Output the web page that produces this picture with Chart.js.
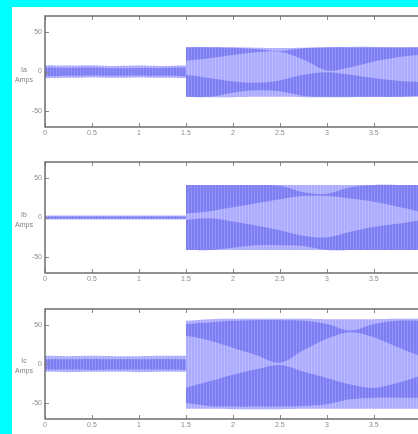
<!DOCTYPE html>
<html>
<head>
<meta charset="utf-8">
<script src="https://cdn.jsdelivr.net/npm/chart.js@4.4.1/dist/chart.umd.min.js"></script>
<style>
body { margin:0; background:#00ffff; width:418px; height:434px; overflow:hidden; position:relative; font-family:"Liberation Sans", Arial, sans-serif; }
#sheet { position:absolute; left:12px; top:7px; width:406px; height:427px; background:#fff; }
.box { position:absolute; left:12px; width:406px; }
.box canvas { filter: blur(0.35px); }
.lab { position:absolute; left:13px; width:22px; text-align:center; font-size:7px; line-height:10px; color:#808080; }
</style>
</head>
<body>
<div id="sheet"></div>
<div class="box" style="top:7px;height:140px"><canvas id="c1"></canvas></div>
<div class="box" style="top:147px;height:145px"><canvas id="c2"></canvas></div>
<div class="box" style="top:292px;height:142px"><canvas id="c3"></canvas></div>
<div class="lab" style="top:65px">Ia<br>Amps</div>
<div class="lab" style="top:210px">Ib<br>Amps</div>
<div class="lab" style="top:356px">Ic<br>Amps</div>
<script>
// time (s) before and after the fault at 1.5 s
const tPre = [0, 0.25, 0.5, 0.75, 1, 1.25, 1.5];
const tPost = [1.5, 1.75, 2, 2.25, 2.5, 2.75, 3, 3.25, 3.5, 3.75, 3.97];
const xTicks = [0, 0.5, 1, 1.5, 2, 2.5, 3, 3.5];
const yTicks = [-50, 0, 50];

// Ia
const iaPreHi = [8, 7.5, 8, 7, 7.5, 7, 8];
const iaPreLo = [-8.5, -8, -7.5, -8, -7.5, -8, -8.5];
const iaPreCoreHi = [5, 4.5, 5, 4, 4.5, 4.5, 5];
const iaPreCoreLo = [-6, -5.5, -5, -5.5, -5, -5.5, -6];
const iaHi = [31, 31, 30.5, 30, 29.5, 30, 30.5, 31, 31, 30.5, 30.5];
const iaLo = [-32, -32.5, -32.5, -32, -32, -32.5, -32.5, -32.5, -32, -32, -32];
const iaUpTop = [30.4, 30.4, 30, 28.3, 25.8, 29.2, 30.4, 30.4, 30.4, 30.4, 30.4];
const iaUpBot = [13.7, 16.7, 20.8, 24.2, 25, 15, 1.2, 5.4, 12.5, 17.9, 20.8];
const iaLoTop = [-4.2, -8.3, -12.5, -14.2, -11.2, -4.2, -0.8, -4.2, -8.3, -11.7, -13.3];
const iaLoBot = [-32, -32, -26.7, -23.7, -25, -30.8, -32, -32, -32, -32, -31];

// Ib
const ibPreHi = [2.5, 2.5, 2.5, 2.5, 2.5, 2.5, 2.5];
const ibPreLo = [-2.5, -2.5, -2.5, -2.5, -2.5, -2.5, -2.5];
const ibPreCoreHi = [1.2, 1.2, 1.2, 1.2, 1.2, 1.2, 1.2];
const ibPreCoreLo = [-1.5, -1.5, -1.5, -1.5, -1.5, -1.5, -1.5];
const ibHi = [41, 41, 41, 41, 41, 41, 41, 41, 41, 41, 41];
const ibLo = [-41, -41, -41, -41, -41, -41, -41, -41, -41, -41, -41];
const ibUpTop = [41, 41, 41, 41, 40, 32, 30, 38, 41, 41, 41];
const ibUpBot = [5, 8, 13, 18, 23, 27, 27, 24, 20, 14, 8];
const ibLoTop = [-3, -1, -5, -10, -16, -23, -25, -18, -12, -8, -4];
const ibLoBot = [-41, -41, -38, -35, -35, -36, -41, -41, -41, -41, -41];

// Ic
const icPreHi = [10.5, 10, 10.5, 10, 10, 10.5, 10.5];
const icPreLo = [-10, -10.5, -10, -10, -10.5, -10, -10];
const icPreCoreHi = [6, 6, 6.5, 6, 6, 6.5, 6];
const icPreCoreLo = [-7, -7, -7.5, -7, -7, -7, -7.5];
const icHi = [55, 57, 57.5, 57.5, 57.5, 57.5, 57, 57, 57, 57.5, 57.5];
const icLo = [-57, -57, -57.5, -57.5, -57.5, -57, -57, -57, -57, -57, -57];
const icUpTop = [50.8, 52.9, 55, 55.8, 55.8, 55, 50.8, 42.5, 50.8, 55, 55];
const icUpBot = [36.2, 30, 20.8, 11.2, 1.7, 17.5, 32.1, 40.4, 34.2, 21.7, 11.2];
const icLoTop = [-30.4, -22.1, -13.7, -6.7, -1.2, -9.6, -17.9, -26.2, -30.4, -24.2, -15.8];
const icLoBot = [-49.2, -53.3, -54.2, -54.2, -54.2, -53.3, -51.2, -45, -42.9, -42.9, -42.9];

function stripes(base, stripe) {
	const c = document.createElement('canvas');
	c.width = 3; c.height = 1;
	const g = c.getContext('2d');
	g.fillStyle = base; g.fillRect(0, 0, 3, 1);
	g.fillStyle = stripe; g.fillRect(2, 0, 1, 1);
	return g.createPattern(c, 'repeat');
}
const lightFill = stripes('rgb(170,170,255)', 'rgb(188,188,255)');
const darkFill = stripes('rgb(126,126,243)', 'rgb(146,146,250)');

function band(xs, hi, lo, color, order) {
	return [
		{ data: xs.map((t, i) => ({ x: t, y: hi[i] })), fill: '+1', backgroundColor: color, order: order },
		{ data: xs.map((t, i) => ({ x: t, y: lo[i] })), fill: false, order: order }
	];
}

const boxPlugin = {
	id: 'box',
	afterDatasetsDraw(chart) {
		const ctx = chart.ctx, a = chart.chartArea;
		const x = chart.scales.x, y = chart.scales.y;
		ctx.save();
		ctx.strokeStyle = '#8a8a8a';
		ctx.lineWidth = 1;
		ctx.beginPath();
		xTicks.forEach(v => {
			const px = Math.round(x.getPixelForValue(v)) + 0.5;
			ctx.moveTo(px, a.top); ctx.lineTo(px, a.top + 4);
			ctx.moveTo(px, a.bottom); ctx.lineTo(px, a.bottom - 4);
		});
		yTicks.forEach(v => {
			const py = Math.round(y.getPixelForValue(v)) + 0.5;
			ctx.moveTo(a.left, py); ctx.lineTo(a.left + 4, py);
		});
		ctx.stroke();
		ctx.strokeStyle = '#6e6e6e';
		ctx.lineWidth = 1.5;
		ctx.beginPath();
		ctx.moveTo(a.right, a.top); ctx.lineTo(a.left, a.top);
		ctx.lineTo(a.left, a.bottom); ctx.lineTo(a.right, a.bottom);
		ctx.stroke();
		ctx.restore();
	}
};

function makePanel(id, padTop, padBottom, pre, post) {
	const datasets = [].concat(
		band(tPost, post[2], post[3], darkFill, 1),
		band(tPost, post[4], post[5], darkFill, 1),
		band(tPre, pre[2], pre[3], darkFill, 1),
		band(tPost, post[0], post[1], lightFill, 3),
		band(tPre, pre[0], pre[1], lightFill, 3)
	);
	return new Chart(document.getElementById(id), {
		type: 'line',
		data: { datasets: datasets },
		options: {
			animation: false,
			responsive: true,
			maintainAspectRatio: false,
			layout: { padding: { top: padTop, bottom: padBottom, left: 0, right: 0 } },
			elements: {
				line: { borderWidth: 0, borderColor: 'rgba(0,0,0,0)', tension: 0.35 },
				point: { radius: 0 }
			},
			plugins: { legend: { display: false }, tooltip: { enabled: false } },
			scales: {
				x: {
					type: 'linear', min: 0, max: 3.97,
					afterBuildTicks: s => { s.ticks = xTicks.map(v => ({ value: v })); },
					afterFit: s => { s.height = 14; },
					grid: { display: false, drawTicks: false },
					border: { display: false },
					ticks: { padding: 2, color: '#8a8a8a', font: { size: 7, family: 'Liberation Sans' }, callback: v => String(v), maxRotation: 0 }
				},
				y: {
					min: -70, max: 70,
					afterBuildTicks: s => { s.ticks = yTicks.map(v => ({ value: v })); },
					afterFit: s => { s.width = 33; },
					grid: { display: false, drawTicks: false },
					border: { display: false },
					ticks: { padding: 3, color: '#8a8a8a', font: { size: 7, family: 'Liberation Sans' }, callback: v => String(v) }
				}
			}
		},
		plugins: [boxPlugin]
	});
}

makePanel('c1', 9, 6,
	[iaPreHi, iaPreLo, iaPreCoreHi, iaPreCoreLo],
	[iaHi, iaLo, iaUpTop, iaUpBot, iaLoTop, iaLoBot]);
makePanel('c2', 15, 5,
	[ibPreHi, ibPreLo, ibPreCoreHi, ibPreCoreLo],
	[ibHi, ibLo, ibUpTop, ibUpBot, ibLoTop, ibLoBot]);
makePanel('c3', 17, 1,
	[icPreHi, icPreLo, icPreCoreHi, icPreCoreLo],
	[icHi, icLo, icUpTop, icUpBot, icLoTop, icLoBot]);
</script>
</body>
</html>
